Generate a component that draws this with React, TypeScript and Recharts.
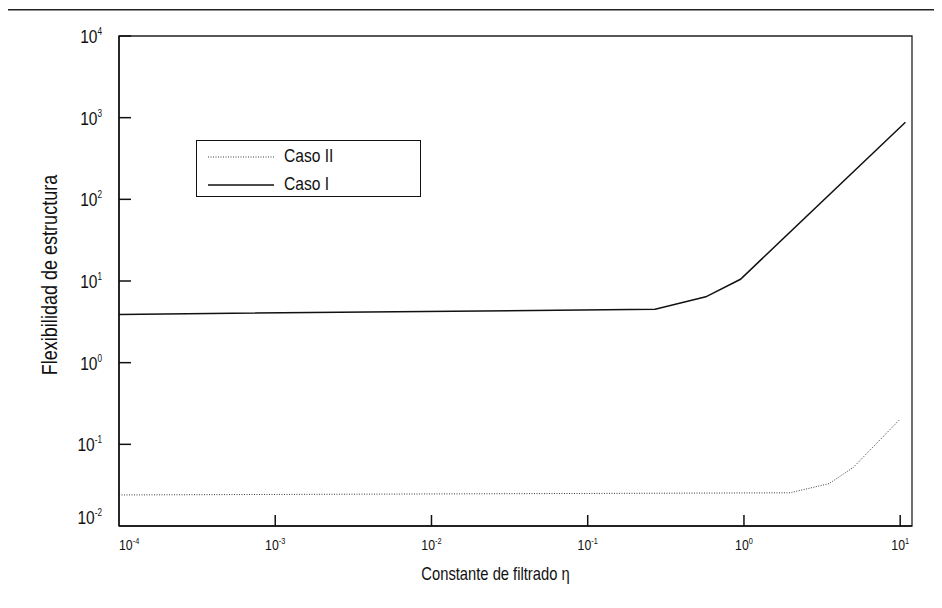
import React from "react";
import { LineChart, Line, XAxis, YAxis, ReferenceArea, Legend, Label, Customized } from "recharts";

// Constante de filtrado (eta) vs. flexibilidad de estructura
const casoIEta = [1e-4, 0.27, 0.57, 0.95, 10.8];
const casoIFlex = [3.9, 4.5, 6.4, 10.5, 880];
const casoIIEta = [1e-4, 1.97, 3.5, 5.0, 9.9];
const casoIIFlex = [0.024, 0.0255, 0.033, 0.052, 0.2];

const xTicks = [1e-4, 1e-3, 1e-2, 1e-1, 1, 10];
const yTicks = [1e-2, 1e-1, 1, 10, 100, 1000, 10000];
const xDomain = [1e-4, 11.9];
const yDomain = [1e-2, 1e4];
const legendOrder = ["Caso II", "Caso I"];

const casoI = casoIEta.map((eta, i) => ({ eta, flex: casoIFlex[i] }));
const casoII = casoIIEta.map((eta, i) => ({ eta, flex: casoIIFlex[i] }));

const FONT = "'Liberation Sans', Arial, sans-serif";
const SQUEEZE = 0.82; // narrow face look
const INK = "#111";

const seriesStyle: Record<string, { dash?: string; color: string; width: number }> = {
  "Caso II": { dash: "1 1.5", color: "#3a3a3a", width: 1 },
  "Caso I": { color: INK, width: 1.5 },
};

const expOf = (v: number) => String(Math.round(Math.log10(v)));

const NText = ({ x, y, anchor = "start", size, rotate, children }: any) => (
  <g transform={`translate(${x},${y})${rotate ? ` rotate(${rotate})` : ""} scale(${SQUEEZE},1)`}>
    <text x={0} y={0} textAnchor={anchor} fontFamily={FONT} fontSize={size} fill={INK}>
      {children}
    </text>
  </g>
);

const XTick = (props: any) => {
  const { x, y, payload, index } = props;
  return (
    <g>
      {index > 0 && <line x1={x} x2={x} y1={y} y2={y - 11} stroke={INK} strokeWidth={1.5} />}
      <NText x={x} y={y + 24} anchor={index === 0 ? "start" : "middle"} size={15}>
        10<tspan dy={-6} fontSize={9}>{expOf(payload.value)}</tspan>
      </NText>
    </g>
  );
};

const YTick = (props: any) => {
  const { x, y, payload } = props;
  const bottom = payload.value === yDomain[0];
  return (
    <g>
      {!bottom && <line x1={x} x2={x + 12} y1={y} y2={y} stroke={INK} strokeWidth={1.5} />}
      <NText x={x - 17} y={bottom ? y - 2 : y + 7} anchor="end" size={19}>
        10<tspan dy={-8} fontSize={10}>{expOf(payload.value)}</tspan>
      </NText>
    </g>
  );
};

const YTitle = (props: any) => {
  const { x, y, height } = props.viewBox;
  return (
    <NText x={x + 18} y={y + height / 2 - 6} anchor="middle" size={22} rotate={-90}>
      Flexibilidad de estructura
    </NText>
  );
};

const XTitle = (props: any) => {
  const { x, y, width } = props.viewBox;
  return (
    <NText x={x + width / 2 - 20} y={y + 54} anchor="middle" size={18}>
      Constante de filtrado η
    </NText>
  );
};

// page frame: only its top and left edges fall inside the picture
const PageFrame = () => (
  <path d="M6.5,700 L6.5,9.75 L1000,9.75" fill="none" stroke="#222" strokeWidth={1.5} />
);

const LegendBox = (props: any) => {
  const items = [...(props.payload || [])].sort(
    (a: any, b: any) => legendOrder.indexOf(a.value) - legendOrder.indexOf(b.value)
  );
  return (
    <div style={{ width: 223, height: 55, border: `1.5px solid ${INK}`, background: "#fff" }}>
      {items.map((entry: any) => {
        const s = seriesStyle[entry.value];
        return (
          <div key={entry.value} style={{ display: "flex", alignItems: "center", height: 27, marginTop: 1 }}>
            <svg width={87} height={20}>
              <line x1={11} x2={77} y1={11} y2={11} stroke={s.color} strokeWidth={s.width} strokeDasharray={s.dash} />
            </svg>
            <span
              style={{
                display: "inline-block",
                fontFamily: FONT,
                fontSize: 19,
                color: INK,
                transform: `scaleX(${SQUEEZE})`,
                transformOrigin: "left center",
              }}
            >
              {entry.value}
            </span>
          </div>
        );
      })}
    </div>
  );
};

export default function App() {
  return (
    <div style={{ width: 942, height: 608, margin: -8, background: "#fff", overflow: "hidden" }}>
      <LineChart width={942} height={608} margin={{ top: 36, right: 30, bottom: 22, left: 39 }}>
        <Customized component={PageFrame} />
        <XAxis
          dataKey="eta"
          type="number"
          scale="log"
          domain={xDomain}
          ticks={xTicks}
          allowDataOverflow
          height={60}
          tickSize={0}
          tickMargin={0}
          tick={<XTick />}
          axisLine={{ stroke: INK, strokeWidth: 1.5 }}
        >
          <Label content={<XTitle />} />
        </XAxis>
        <YAxis
          dataKey="flex"
          type="number"
          scale="log"
          domain={yDomain}
          ticks={yTicks}
          allowDataOverflow
          width={80}
          tickSize={0}
          tickMargin={0}
          tick={<YTick />}
          axisLine={{ stroke: INK, strokeWidth: 1.5 }}
        >
          <Label content={<YTitle />} />
        </YAxis>
        <ReferenceArea x1={xDomain[0]} x2={xDomain[1]} y1={yDomain[0]} y2={yDomain[1]} fill="none" stroke="#222" strokeWidth={1.3} ifOverflow="visible" />
        <Legend
          layout="vertical"
          align="center"
          verticalAlign="middle"
          content={<LegendBox />}
          wrapperStyle={{ position: "absolute", left: 196, top: 140, width: 226 }}
        />
        <Line
          data={casoII}
          dataKey="flex"
          name="Caso II"
          type="linear"
          stroke={seriesStyle["Caso II"].color}
          strokeWidth={seriesStyle["Caso II"].width}
          strokeDasharray={seriesStyle["Caso II"].dash}
          dot={false}
          activeDot={false}
          isAnimationActive={false}
        />
        <Line
          data={casoI}
          dataKey="flex"
          name="Caso I"
          type="linear"
          stroke={seriesStyle["Caso I"].color}
          strokeWidth={seriesStyle["Caso I"].width}
          dot={false}
          activeDot={false}
          isAnimationActive={false}
        />
      </LineChart>
    </div>
  );
}
